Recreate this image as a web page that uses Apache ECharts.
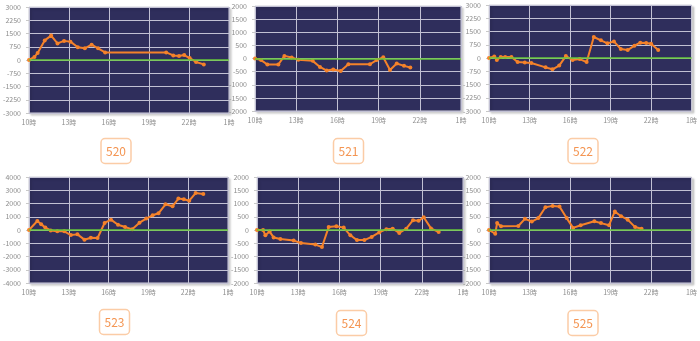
<!DOCTYPE html>
<html>
<head>
<meta charset="utf-8">
<script src="https://cdn.jsdelivr.net/npm/echarts@6/dist/echarts.min.js"></script>
<style>
html,body{margin:0;padding:0;background:#fff;}
#c{width:700px;height:341px;}
</style>
</head>
<body>
<div id="c"></div>
<script>
// chart titles
const names = ['520','521','522','523','524','525'];
// x tick labels (hours from 10時, every 3h)
const hourTicks = [10,13,16,19,22,1];

// times (hours) and values for each chart
const t520 = [10.0,10.41,10.65,11.18,11.66,12.14,12.63,13.11,13.66,14.19,14.70,15.18,15.71,20.29,20.82,21.25,21.64,22.05,22.53,23.11];
const v520 = [0,170,400,1110,1380,940,1080,1040,720,660,870,660,430,430,260,230,280,110,-110,-250];

const t521 = [10.0,10.44,10.9,11.7,12.14,12.67,13.16,14.2,14.73,15.22,15.7,16.24,16.8,18.37,18.86,19.34,19.83,20.32,20.85,21.31];
const v521 = [0,-60,-230,-230,100,40,-50,-90,-320,-460,-420,-480,-220,-220,-60,50,-440,-190,-280,-340];

const t522 = [10.0,10.39,10.58,10.87,11.2,11.66,12.12,12.65,13.13,14.19,14.7,15.2,15.69,16.19,16.72,17.23,17.76,18.29,18.77,19.25,19.76,20.27,20.77,21.2,21.64,22.0,22.53];
const v522 = [0,80,-110,60,60,60,-230,-260,-280,-530,-640,-430,110,-110,-60,-230,1190,1000,830,940,510,450,700,870,850,810,450];

const t523 = [10.0,10.63,10.92,11.23,11.64,12.13,12.66,13.16,13.65,14.18,14.66,15.17,15.7,16.18,16.71,17.24,17.78,18.33,18.84,19.32,19.76,20.29,20.82,21.26,21.67,22.08,22.56,23.14];
const v523 = [0,680,430,180,-30,-100,-100,-380,-330,-730,-580,-600,530,780,400,230,50,550,860,1110,1260,1940,1790,2370,2320,2210,2790,2720];

const t524 = [10.0,10.44,10.61,10.92,11.21,11.7,12.67,13.2,14.25,14.73,15.22,15.78,16.31,16.8,17.28,17.82,18.35,18.9,19.42,19.88,20.36,20.87,21.36,21.77,22.14,22.67,23.23];
const v524 = [0,0,-200,-60,-280,-340,-400,-490,-550,-640,110,140,90,-200,-380,-380,-260,-90,30,50,-110,50,370,350,480,60,-80];

const t525 = [10.0,10.46,10.6,10.89,12.17,12.66,13.17,13.65,14.18,14.71,15.22,15.75,16.23,16.79,17.8,18.29,18.89,19.32,19.78,20.27,20.82,21.3];
const v525 = [0,-140,260,140,150,420,320,450,860,910,890,450,80,180,330,260,180,700,520,390,110,50];

// y ranges
const yMin = [-3000,-2000,-3000,-4000,-2000,-2000];
const yMax = [3000,2000,3000,4000,2000,2000];
const yStep = [750,500,750,1000,500,500];

const times = [t520,t521,t522,t523,t524,t525];
const vals = [v520,v521,v522,v523,v524,v525];

// layout (pixels)
const grids = [
  {left:21, top:7, width:208, height:106},
  {left:255, top:6, width:206, height:105},
  {left:489, top:5, width:208, height:106},
  {left:21, top:177, width:207, height:106},
  {left:257, top:177, width:206, height:106},
  {left:489, top:177, width:207, height:106}
];
const boxes = [
  {cx:116, cy:151}, {cx:348.5, cy:151}, {cx:583, cy:151},
  {cx:114.5, cy:322}, {cx:351.5, cy:323}, {cx:583, cy:323}
];

const FONT = '"Noto Sans CJK JP","Open Sans",sans-serif';
const labelColor = '#8d8d8d';

const option = {
  animation:false,
  backgroundColor:'#ffffff',
  grid: grids.map(g => Object.assign({
    show:true,
    backgroundColor:'#2f2e5c',
    borderColor:'#d4d4dc',
    borderWidth:1,
    shadowColor:'rgba(0,0,0,0.18)',
    shadowBlur:2,
    shadowOffsetX:2,
    shadowOffsetY:2
  }, g)),
  xAxis: grids.map((g,i) => ({
    type:'value', gridIndex:i,
    min:0, max:15, interval:3,
    axisLine:{show:false},
    axisTick:{show:true, length:3, lineStyle:{color:'#c8c8c8'}},
    axisLabel:{fontSize:7, color:labelColor, margin:6, fontFamily:FONT,
      formatter: v => hourTicks[Math.round(v/3)] + '時'},
    splitLine:{show:true, lineStyle:{color:'#c2c1d4', width:1}}
  })),
  yAxis: grids.map((g,i) => ({
    type:'value', gridIndex:i,
    min:yMin[i], max:yMax[i], interval:yStep[i],
    axisLine:{show:false},
    axisTick:{show:true, length:3, lineStyle:{color:'#c8c8c8'}},
    axisLabel:{fontSize:7, color:labelColor, margin:8, fontFamily:FONT,
      formatter: v => String(v)},
    splitLine:{show:true, lineStyle:{color:'#c2c1d4', width:1}}
  })),
  series: vals.map((v,i) => ({
    type:'line', xAxisIndex:i, yAxisIndex:i,
    data: v.map((y,k) => [times[i][k]-10, y]),
    symbol:'circle', symbolSize:4,
    lineStyle:{color:'#f5822a', width:2},
    itemStyle:{color:'#f5822a'},
    markLine:{
      silent:true, symbol:'none', label:{show:false},
      lineStyle:{color:'#66c93a', width:1.5, type:'solid'},
      data:[{yAxis:0}]
    }
  })),
  graphic: boxes.flatMap((b,i) => ([
    {type:'rect', shape:{x:b.cx-15, y:b.cy-12.5, width:30, height:25, r:4},
     style:{fill:'#ffffff', stroke:'#fbcca6', lineWidth:1.5}},
    {type:'text', x:b.cx, y:b.cy,
     style:{text:names[i], fill:'#f49552', fontSize:12, fontFamily:FONT,
       align:'center', verticalAlign:'middle', textAlign:'center', textVerticalAlign:'middle'}}
  ]))
};

const chart = echarts.init(document.getElementById('c'), null, {renderer:'canvas'});
chart.setOption(option);
</script>
</body>
</html>
